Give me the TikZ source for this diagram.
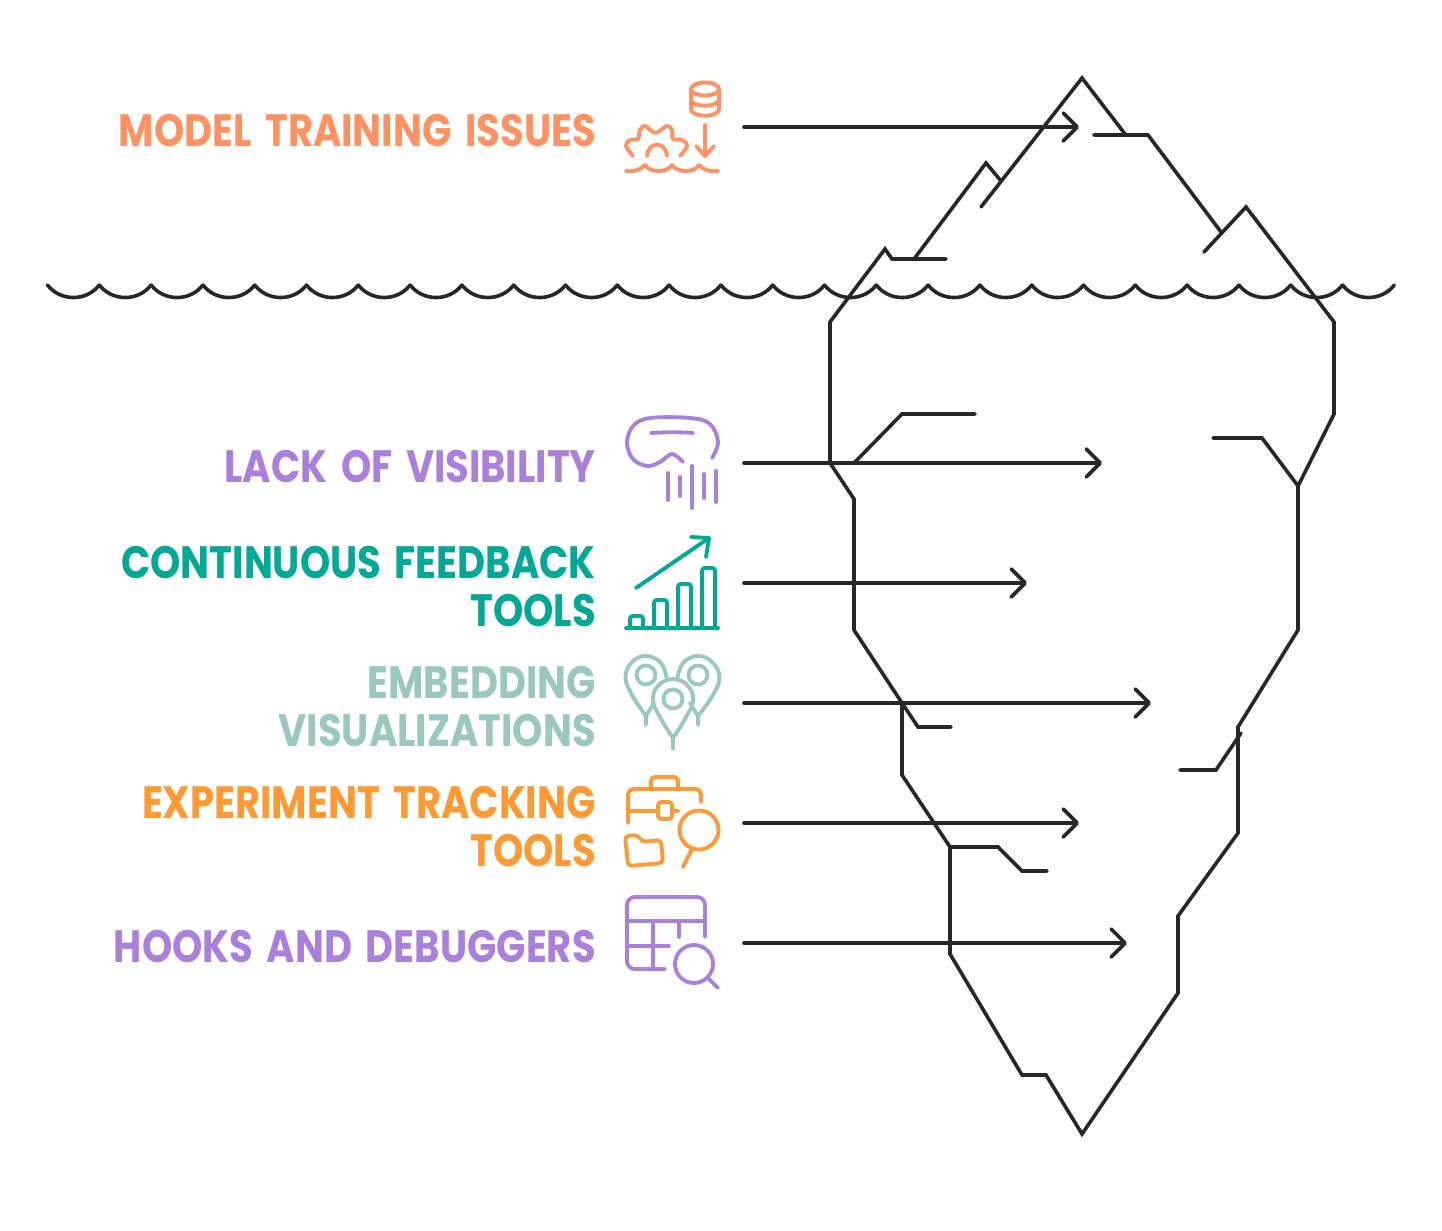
\documentclass[tikz,border=0pt]{standalone}
\usepackage{fontspec}
\usepackage{tikz}
\usetikzlibrary{arrows.meta,positioning,calc}
\newfontfamily\capsfont[FakeStretch=0.85,WordSpace=1.67]{Poppins}
\definecolor{inkdark}{RGB}{39,39,39}
\definecolor{trainorange}{RGB}{255,146,96}
\definecolor{visipurple}{RGB}{170,128,220}
\definecolor{feedteal}{RGB}{0,168,150}
\definecolor{embedmint}{RGB}{155,200,190}
\definecolor{trackorange}{RGB}{255,153,51}
\tikzset{>={Straight Barb[length=10.5pt,width=21pt,round]}}
\tikzset{iceline/.style={line width=2.7pt,inkdark,line cap=round,line join=miter}}
\tikzset{iconline/.style={line width=2.9pt,line cap=round,line join=round}}
\tikzset{biglabel/.style={anchor=base east,align=right,font=\capsfont\bfseries\fontsize{34}{36}\selectfont,inner sep=0pt}}
\begin{document}
\begin{tikzpicture}[x=0.75pt,y=-0.75pt]
    \useasboundingbox (0,0) rectangle (1442,1231);
    % water line
    \foreach \i in {0,...,25} {
        \pgfmathsetmacro{\wx}{47.5+51.8*\i}
        \draw[iceline] (\wx,285) .. controls (\wx+13,301.7) and (\wx+39,301.7) .. (\wx+51.8,285);
    }
    % iceberg
    \draw[iceline] (981,207) -- (1082,78) -- (1125,134);
    \draw[iceline] (1094,135) -- (1148,135) -- (1221,232);
    \draw[iceline] (1204,252) -- (1246,207) -- (1334,322) -- (1334,414) -- (1298,486) -- (1298,630) -- (1238,727) -- (1238,833) -- (1178,916) -- (1178,993) -- (1082,1134) -- (1046,1075) -- (1022,1075) -- (950,954) -- (950,847) -- (902,775) -- (902,703) -- (854,630) -- (854,499) -- (830,463) -- (830,322) -- (885,249) -- (892,259) -- (946,259);
    \draw[iceline] (914,259) -- (986,163) -- (1001,181);
    \draw[iceline] (830,463) -- (854,463) -- (902,414) -- (975,414);
    \draw[iceline] (1213,438) -- (1262,438) -- (1298,486);
    \draw[iceline] (1180,770) -- (1216,770) -- (1241,733);
    \draw[iceline] (902,703) -- (918,727) -- (951,727);
    \draw[iceline] (950,847) -- (998,847) -- (1022,871) -- (1047,871);
    % labels
    \node[biglabel,trainorange] (training) at (596,146) {MODEL TRAINING ISSUES};
    \node[biglabel,visipurple] (visibility) at (596,482) {LACK OF VISIBILITY};
    \node[biglabel,feedteal] (feedback) at (596,578) {CONTINUOUS FEEDBACK};
    \node[biglabel,feedteal] (feedback2) at (596,626) {TOOLS};
    \node[biglabel,embedmint] (embedding) at (596,698) {EMBEDDING};
    \node[biglabel,embedmint] (embedding2) at (596,746) {VISUALIZATIONS};
    \node[biglabel,trackorange] (tracking) at (596,818) {EXPERIMENT TRACKING};
    \node[biglabel,trackorange] (tracking2) at (596,866) {TOOLS};
    \node[biglabel,visipurple] (hooks) at (596,962) {HOOKS AND DEBUGGERS};
    % arrows
    \foreach \nm/\ya/\xb in {trainA/127/1079,visiA/463/1102,feedA/583/1027,embedA/703/1151,trackA/823/1079,hookA/943/1127} {
        \coordinate (\nm) at (744,\ya);
        \coordinate (\nm end) at (\xb,\ya);
        \draw[->,iceline] (\nm) -- (\nm end);
    }
    % icon: gear, database and water
    \begin{scope}[iconline,trainorange]
        \draw (705,89) ellipse [x radius=14,y radius=6.5];
        \draw (691,89) -- (691,109) .. controls (691,118) and (719,118) .. (719,109) -- (719,89);
        \draw (691,99) .. controls (691,108) and (719,108) .. (719,99);
        \draw (705,125) -- (705,156);
        \draw (696,146) -- (705,156) -- (714,146);
        \draw plot[smooth,tension=.6] coordinates {(633,156) (626,146) (630,140) (638,139) (640,130) (645,126) (653,132) (658,132) (667,126) (672,130) (673,139) (682,140) (687,146) (680,156)};
        \draw (647,156) .. controls (648,141) and (666,141) .. (667,156);
        \draw (626,171) .. controls (634,172) and (641,170) .. (645,165) .. controls (650,173) and (667,173) .. (672,165) .. controls (677,173) and (694,173) .. (699,165) .. controls (703,170) and (710,172) .. (718,171);
    \end{scope}
    % icon: visor and rain
    \begin{scope}[iconline,visipurple]
        \draw plot[smooth,tension=.6] coordinates {(712,458) (718,442) (710,424) (690,418) (650,418) (633,426) (627,443) (633,459) (647,466) (660,462) (672,454) (683,462)};
        \draw (651,433) .. controls (665,432) and (680,432) .. (693,433);
        \foreach \bx/\ba/\bb in {668/473/500,680/477/496,692/466/508,704/474/498,716/471/502} {
            \draw (\bx,\ba) -- (\bx,\bb);
        }
    \end{scope}
    % icon: bars and rising arrow
    \begin{scope}[iconline,feedteal]
        \draw (636,588) -- (709,538);
        \draw (691,537) -- (709,538) -- (706,557);
        \draw (626,628) -- (718,628);
        \foreach \bl/\br/\bt in {630/643/616,654/667/600,678/691/584,702/715/568} {
            \draw[rounded corners=2pt] (\bl,628) -- (\bl,\bt) -- (\br,\bt) -- (\br,628);
        }
    \end{scope}
    % icon: three pins
    \begin{scope}[iconline,embedmint]
        \draw (646,675) circle [radius=9.5];
        \draw (698,675) circle [radius=9.5];
        \draw (673,699) circle [radius=9.5];
        \draw plot[smooth,tension=.7] coordinates {(667,680) (661,663) (646,656) (632,662) (625.5,677) (632,695) (646,716)} -- (646,725);
        \draw (646,716) -- (654,703);
        \draw plot[smooth,tension=.7] coordinates {(677,680) (683,663) (698,656) (712,662) (719.5,677) (713,695) (698,716)} -- (698,725);
        \draw (698,716) -- (690,703);
        \draw plot[smooth,tension=.7] coordinates {(673,738) (661,719) (653,701) (658,686) (673,679) (688,686) (693,701) (685,719) (673,738)} -- (673,749);
    \end{scope}
    % icon: briefcase, folder and lens
    \begin{scope}[iconline,trackorange]
        \draw[rounded corners=3pt] (651,788) -- (651,777) -- (678,777) -- (678,788);
        \draw[rounded corners=4pt] (628,823) -- (628,789) -- (701,789) -- (701,802);
        \draw (628,811) -- (658,811);
        \draw (672,811) -- (678,811);
        \draw[rounded corners=2.5pt] (658,802) rectangle (672,819);
        \draw (699,830) circle [radius=19.5];
        \draw (692,849) -- (683,867);
        \draw[rounded corners=3pt] (625,836) -- (638,835) -- (642,842) -- (661,840) -- (663,863) -- (628,866) -- cycle;
    \end{scope}
    % icon: table and lens
    \begin{scope}[iconline,visipurple]
        \draw[rounded corners=6pt] (705,937) -- (705,897) -- (627,897) -- (627,969) -- (665,969);
        \draw (627,921) -- (705,921);
        \draw (627,946) -- (669,946);
        \draw (653,921) -- (653,969);
        \draw (679,921) -- (679,937);
        \draw (694,964) circle [radius=19];
        \draw (708,978) -- (718,988);
    \end{scope}
\end{tikzpicture}
\end{document}
